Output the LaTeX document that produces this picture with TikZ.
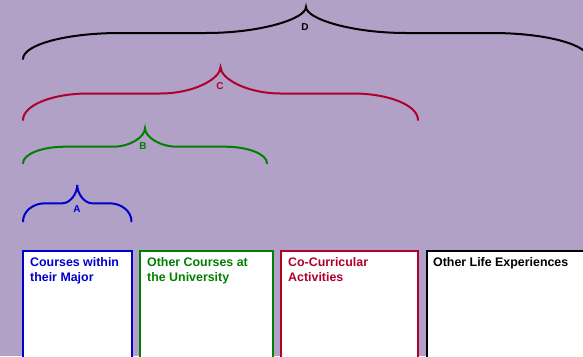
\documentclass[tikz,border=0pt]{standalone}
\usepackage{fontspec}
\setmainfont{Liberation Sans}
\definecolor{bgc}{RGB}{177,161,199}
\definecolor{bluec}{RGB}{0,0,204}
\definecolor{greenc}{RGB}{0,128,0}
\definecolor{redc}{RGB}{176,0,44}
\definecolor{blackc}{RGB}{0,0,0}
\newcommand\hbr[8]{%
\draw[#8] (#1,#3) .. controls (#1,{#3-0.5523*(#3-#4)}) and ({#1+0.4477*#6},#4) .. ({#1+#6},#4)
 -- ({(#1+#2)/2-#7},#4) .. controls ({(#1+#2)/2-0.4477*#7},#4) and ({(#1+#2)/2},{#4-0.5523*(#4-#5)}) .. ({(#1+#2)/2},#5)
 .. controls ({(#1+#2)/2},{#4-0.5523*(#4-#5)}) and ({(#1+#2)/2+0.4477*#7},#4) .. ({(#1+#2)/2+#7},#4)
 -- ({#2-#6},#4) .. controls ({#2-0.4477*#6},#4) and (#2,{#3-0.5523*(#3-#4)}) .. (#2,#3);}
\begin{document}
\begin{tikzpicture}[x=1pt,y=-1pt,
  brc/.style={line width=2pt,line cap=round},
  blbl/.style={font=\bfseries\fontsize{10}{12}\selectfont,inner sep=0pt},
  box/.style={draw=#1,fill=white,line width=2pt,minimum height=130pt,anchor=north west,inner sep=0pt},
  btxt/.style={font=\bfseries\fontsize{12.4}{15}\selectfont,align=left,anchor=north west,inner sep=0pt,text=#1}]
\useasboundingbox (0,0) rectangle (583,356);
\fill[bgc] (0,0) rectangle (583,356);
% braces
\hbr{23}{131.5}{221.5}{203.3}{185}{22}{15}{brc,bluec}
\hbr{23}{267}{163.3}{146.7}{128.3}{42}{32}{brc,greenc}
\hbr{23}{418}{120}{93.5}{67}{65}{60}{brc,redc}
\hbr{23}{589}{59}{33}{7}{97}{100}{brc,blackc}
\node[blbl,text=bluec] (la) at (77,209) {A};
\node[blbl,text=greenc] (lb) at (143,146) {B};
\node[blbl,text=redc] (lc) at (220,86) {C};
\node[blbl,text=blackc] (ld) at (305,27) {D};
% boxes
\node[box=bluec,minimum width=109pt] (b1) at (22,250) {};
\node[box=greenc,minimum width=133pt] (b2) at (139,250) {};
\node[box=redc,minimum width=137pt] (b3) at (280,250) {};
\node[box=blackc,minimum width=170pt] (b4) at (426,250) {};
\node[btxt=bluec] (t1) at (30,257) {Courses within\\their Major};
\node[btxt=greenc] (t2) at (147,257) {Other Courses at\\the University};
\node[btxt=redc] (t3) at (288,257) {Co-Curricular\\Activities};
\node[btxt=blackc] (t4) at (433,257) {Other Life Experiences};
\end{tikzpicture}
\end{document}
